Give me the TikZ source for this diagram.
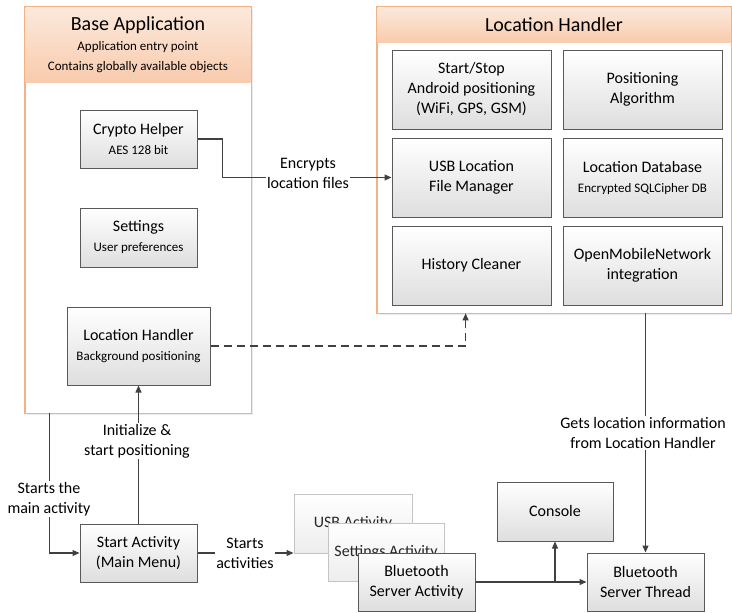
\documentclass[tikz,border=0pt]{standalone}
\usepackage{fontspec}
\setmainfont{Carlito}
\usetikzlibrary{arrows.meta,shadows,calc}
\definecolor{boxline}{HTML}{595959}
\definecolor{boxbot}{HTML}{DEDEDE}
\definecolor{panelline}{HTML}{F4B183}
\definecolor{headtop}{HTML}{FCE9DC}
\definecolor{headbot}{HTML}{F8CBAD}
\definecolor{conncol}{HTML}{404040}
\definecolor{fadeline}{HTML}{C4C4C4}
\definecolor{fadebot}{HTML}{EDEDED}
\newcommand\mainsz{\fontsize{16}{20}\selectfont}
\newcommand\smallsz{\fontsize{13}{20}\selectfont}
\newcommand\titlesz{\fontsize{20}{24}\selectfont}

\begin{document}
\begin{tikzpicture}[x=1pt,y=-1pt,
  box/.style={draw=boxline, line width=1pt, top color=white, bottom color=boxbot,
    align=center, font=\mainsz, inner sep=2pt,
    drop shadow={shadow xshift=1.2pt, shadow yshift=-1.2pt, opacity=0.15, fill=black}},
  fadebox/.style={box, draw=fadeline, bottom color=fadebot, text=black!85,
    drop shadow={shadow xshift=1.2pt, shadow yshift=-1.2pt, opacity=0.06, fill=black}},
  panel/.style={draw=panelline, line width=0.8pt, fill=white, inner sep=0pt,
    drop shadow={shadow xshift=1.5pt, shadow yshift=-1.5pt, opacity=0.08, fill=black}},
  header/.style={top color=headtop, bottom color=headbot, inner sep=0pt, align=center},
  conn/.style={draw=conncol, line width=1.1pt, -{Triangle[length=7pt,width=6pt]}},
  conntext/.style={fill=white, inner sep=1.5pt, align=center, font=\mainsz}]
\useasboundingbox (0,0) rectangle (732,613);

% ---- Base Application panel ----
\node[panel, minimum width=226pt, minimum height=406pt] (base) at (138,210) {};
\node[header, minimum width=225pt, minimum height=75pt, anchor=north, font=\smallsz]
  (basehead) at ([yshift=-0.4pt]base.north)
  {\titlesz Base Application\\Application entry point\\Contains globally available objects};
\draw[panelline, line width=0.8pt] (base.north west) rectangle (base.south east);

\node[box, minimum width=117pt, minimum height=58pt] (crypto) at (138.5,139)
  {Crypto Helper\\\smallsz AES 128 bit};
\node[box, minimum width=117pt, minimum height=59pt] (settings) at (138.5,237.5)
  {Settings\\\smallsz User preferences};
\node[box, minimum width=143pt, minimum height=78pt] (lhin) at (138.5,346)
  {Location Handler\\\smallsz Background positioning};

% ---- Location Handler panel ----
\node[panel, minimum width=354pt, minimum height=306pt] (lhpanel) at (554,160) {};
\node[header, minimum width=353pt, minimum height=35pt, anchor=north, font=\titlesz]
  (lhhead) at ([yshift=-0.4pt]lhpanel.north) {Location Handler};
\draw[panelline, line width=0.8pt] (lhpanel.north west) rectangle (lhpanel.south east);

\node[box, minimum width=159pt, minimum height=79pt] (startstop) at (471.5,89.5)
  {Start/Stop\\Android positioning\\(WiFi, GPS, GSM)};
\node[box, minimum width=159pt, minimum height=79pt] (algo) at (642.5,89.5)
  {Positioning\\Algorithm};
\node[box, minimum width=159pt, minimum height=79pt] (usb) at (471.5,177.5)
  {USB Location\\File Manager};
\node[box, minimum width=159pt, minimum height=79pt] (db) at (642.5,177.5)
  {Location Database\\\smallsz Encrypted SQLCipher DB};
\node[box, minimum width=159pt, minimum height=79pt] (history) at (471.5,265.5)
  {History Cleaner};
\node[box, minimum width=159pt, minimum height=79pt] (omn) at (642.5,265.5)
  {OpenMobileNetwork\\integration};

% ---- Activities ----
\node[box, minimum width=117pt, minimum height=58pt] (start) at (138.5,553)
  {Start Activity\\(Main Menu)};
\node[fadebox, minimum width=118pt, minimum height=59pt] (usbact) at (353,523.5)
  {USB Activity};
\node[fadebox, minimum width=116pt, minimum height=58pt] (setact) at (386,552)
  {Settings Activity};
\node[box, minimum width=117pt, minimum height=58pt] (btact) at (416.5,582)
  {Bluetooth\\Server Activity};
\node[box, minimum width=116pt, minimum height=59pt] (console) at (555,511.5)
  {Console};
\node[box, minimum width=117pt, minimum height=58pt] (btthread) at (645.5,582)
  {Bluetooth\\Server Thread};

% ---- Connectors ----
\draw[conn] (crypto.east) -- ++(25,0) |- (usb.west);
\node[conntext] (enclbl) at (308,173) {Encrypts\\location files};

\draw[conn, dash pattern=on 8pt off 5pt] (lhin.east) -| ([xshift=89pt]lhpanel.south west);

\draw[conn] (lhpanel.south -| btthread.north) -- (btthread.north);
\node[conntext] (getlbl) at (643,433) {Gets location information\\from Location Handler};

\draw[conn] ([xshift=25pt]base.south west) |- (start.west);
\node[conntext] (mainlbl) at (49,499) {Starts the\\main activity};

\draw[conn] (start.north) -- (lhin.south);
\node[conntext] (initlbl) at (137,441) {Initialize \&\\start positioning};

\draw[conn] (start.east) -- (start.east -| usbact.west);
\node[conntext] (actlbl) at (245,553) {Starts\\activities};

\draw[conn] (btact.east) -- (btthread.west);
\draw[conn] (console.south |- btact.east) -- (console.south);
\end{tikzpicture}
\end{document}
